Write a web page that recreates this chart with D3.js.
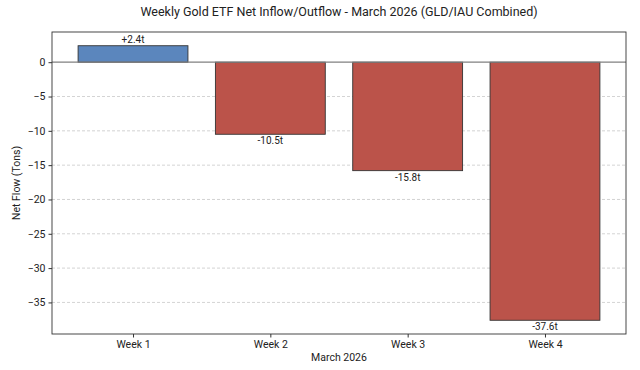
<!DOCTYPE html>
<html><head><meta charset="utf-8">
<script src="https://cdn.jsdelivr.net/npm/d3@7"></script>
<style>body{margin:0;background:#fff;font-family:Roboto,"Noto Sans",sans-serif;}</style>
</head><body><svg id="c" width="640" height="370"></svg>
<script>
const categories = ["Week 1","Week 2","Week 3","Week 4"];
const values = [2.4, -10.5, -15.8, -37.6];
const labels = ["+2.4t","-10.5t","-15.8t","-37.6t"];
const yTicks = [0,-5,-10,-15,-20,-25,-30,-35];

const svg = d3.select("#c");
const m = {l:52, r:626, t:32, b:334};
const x = d3.scaleLinear().domain([-0.59, 3.59]).range([m.l, m.r]);
const y = d3.scaleLinear().domain([-39.6, 4.4]).range([m.b, m.t]);
const bw = 0.8;

// grid
svg.append("g").selectAll("line").data(yTicks.filter(d=>d!==0)).join("line")
  .attr("x1", m.l).attr("x2", m.r).attr("y1", d=>y(d)).attr("y2", d=>y(d))
  .attr("stroke", "#c8c8c8").attr("stroke-width", 0.8).attr("stroke-dasharray", "3,2");

// bars
svg.append("g").selectAll("rect").data(values).join("rect")
  .attr("x", (d,i)=>x(i-bw/2)).attr("width", (d,i)=>x(i+bw/2)-x(i-bw/2))
  .attr("y", d=>y(Math.max(0,d))).attr("height", d=>Math.abs(y(d)-y(0)))
  .attr("fill", d=>d>=0 ? "#5b86bd" : "#bb534a")
  .attr("stroke", "#333").attr("stroke-width", 0.9);

// zero line
svg.append("line").attr("x1", m.l).attr("x2", m.r).attr("y1", y(0)).attr("y2", y(0))
  .attr("stroke", "#808080").attr("stroke-width", 1.2);

// value labels
svg.append("g").selectAll("text").data(values).join("text")
  .attr("x", (d,i)=>x(i)).attr("y", d=> d>=0 ? y(d)-3 : y(d)+10)
  .attr("text-anchor", "middle").attr("font-size", 10).attr("fill", "#222")
  .text((d,i)=>labels[i]);

// frame
svg.append("rect").attr("x", m.l).attr("y", m.t).attr("width", m.r-m.l).attr("height", m.b-m.t)
  .attr("fill", "none").attr("stroke", "#333").attr("stroke-width", 0.9);

// axes
const yAxis = d3.axisLeft(y).tickValues(yTicks).tickFormat(d=>d===0?"0":"\u2212"+Math.abs(d)).tickSize(3.5).tickPadding(3);
const gy = svg.append("g").attr("transform", `translate(${m.l},0)`).call(yAxis);
gy.select(".domain").remove();
gy.selectAll("text").attr("font-size", 10.5).attr("font-family", "Roboto,sans-serif").attr("fill", "#222");
gy.selectAll("line").attr("stroke", "#333");

const xAxis = d3.axisBottom(x).tickValues([0,1,2,3]).tickFormat(i=>categories[i]).tickSize(3.5).tickPadding(3);
const gx = svg.append("g").attr("transform", `translate(0,${m.b})`).call(xAxis);
gx.select(".domain").remove();
gx.selectAll("text").attr("font-size", 10.5).attr("font-family", "Roboto,sans-serif").attr("fill", "#222");
gx.selectAll("line").attr("stroke", "#333");

// titles
svg.append("text").attr("x", (m.l+m.r)/2).attr("y", 16).attr("text-anchor", "middle")
  .attr("font-size", 12.5).attr("fill", "#222").text("Weekly Gold ETF Net Inflow/Outflow - March 2026 (GLD/IAU Combined)");
svg.append("text").attr("x", (m.l+m.r)/2).attr("y", 361).attr("text-anchor", "middle")
  .attr("font-size", 10.5).attr("fill", "#222").text("March 2026");
svg.append("text").attr("transform", `translate(20,${(m.t+m.b)/2}) rotate(-90)`).attr("text-anchor", "middle")
  .attr("font-size", 10.5).attr("fill", "#222").text("Net Flow (Tons)");
</script></body></html>
